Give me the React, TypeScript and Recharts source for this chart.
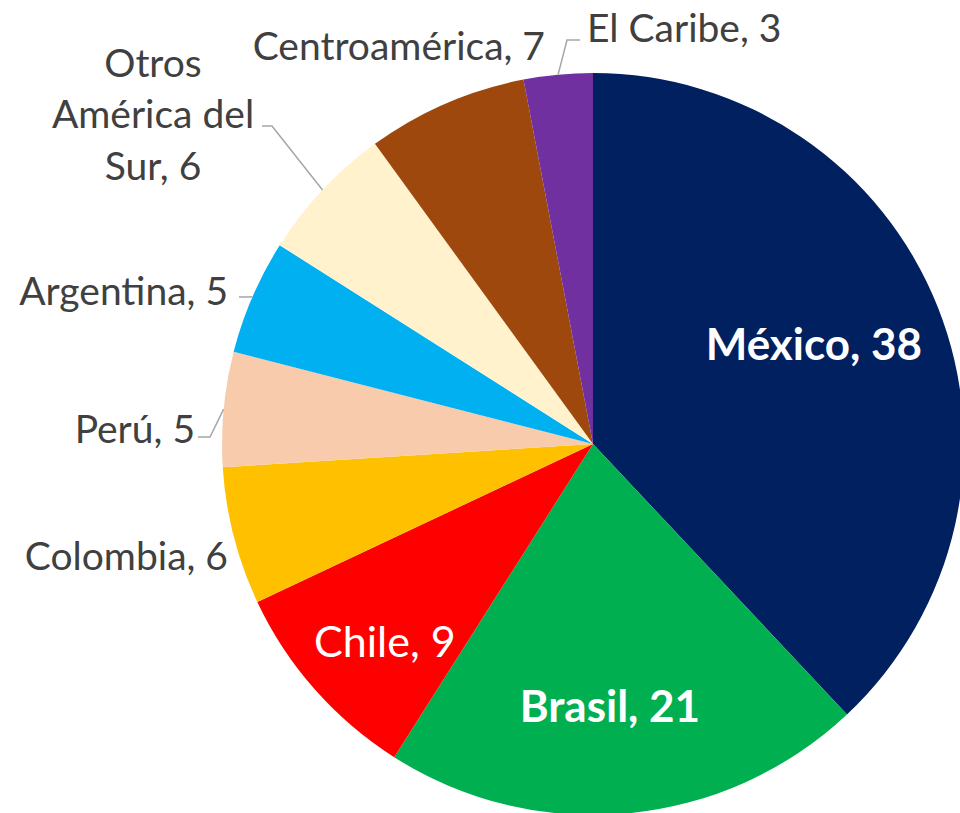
import { Pie, PieChart, Cell } from 'recharts';

const regions = [
    'México',
    'Brasil',
    'Chile',
    'Colombia',
    'Perú',
    'Argentina',
    'Otros América del Sur',
    'Centroamérica',
    'El Caribe',
];
const shares = [38, 21, 9, 6, 5, 5, 6, 7, 3];
const sliceColors = [
    '#002060',
    '#00B050',
    '#FF0000',
    '#FFC000',
    '#F8CBAD',
    '#00B0F0',
    '#FFF2CC',
    '#9E480E',
    '#7030A0',
];

// label placement, relative to the pie centre
type LabelSpot =
    | { inside: true; r: number; turn: number; size: number; bold: boolean }
    | {
          inside: false;
          dx: number;
          dy: number;
          anchor: 'start' | 'end' | 'middle';
          lines: string[];
          elbow?: [number, number];
          tail?: [number, number];
      };

const labelSpots: LabelSpot[] = [
    { inside: true, r: 0.655, turn: 3, size: 44, bold: true },
    { inside: true, r: 0.706, turn: -1.7, size: 44, bold: true },
    { inside: true, r: 0.771, turn: 1.9, size: 43, bold: false },
    { inside: false, dx: -365, dy: 111, anchor: 'end', lines: ['Colombia, 6'] },
    { inside: false, dx: -398, dy: -16, anchor: 'end', lines: ['Perú, 5'], elbow: [-383, -7], tail: [-395, -7] },
    { inside: false, dx: -365, dy: -154, anchor: 'end', lines: ['Argentina, 5'], elbow: [-345, -147], tail: [-354, -147] },
    {
        inside: false,
        dx: -440,
        dy: -331,
        anchor: 'middle',
        lines: ['Otros', 'América del', 'Sur, 6'],
        elbow: [-321, -318],
        tail: [-331, -318],
    },
    { inside: false, dx: -48, dy: -399, anchor: 'end', lines: ['Centroamérica, 7'] },
    { inside: false, dx: -6, dy: -417, anchor: 'start', lines: ['El Caribe, 3'], elbow: [-26, -404], tail: [-13, -404] },
];

const data = regions.map((name, i) => ({ name, value: shares[i] }));

const FONT = 'Lato, "Open Sans", sans-serif';
const FONT_SIZE = 39;
const LINE_HEIGHT = 51.5;
const RAD = Math.PI / 180;

function SliceLabel(props: any) {
    const { cx, cy, midAngle, outerRadius, index, name, value } = props;
    const spot = labelSpots[index];

    if (spot.inside) {
        const r = outerRadius * spot.r;
        const a = (midAngle + spot.turn) * RAD;
        return (
            <text
                x={cx + r * Math.cos(a)}
                y={cy - r * Math.sin(a)}
                fill="#FFFFFF"
                textAnchor="middle"
                dominantBaseline="central"
                fontFamily={FONT}
                fontSize={spot.size}
                fontWeight={spot.bold ? 700 : 400}
            >
                {`${name}, ${value}`}
            </text>
        );
    }

    const x = cx + spot.dx;
    const y = cy + spot.dy;
    const top = y - ((spot.lines.length - 1) * LINE_HEIGHT) / 2;
    let leader = null;
    if (spot.elbow && spot.tail) {
        const sx = cx + outerRadius * Math.cos(midAngle * RAD);
        const sy = cy - outerRadius * Math.sin(midAngle * RAD);
        const pts = `${sx},${sy} ${cx + spot.elbow[0]},${cy + spot.elbow[1]} ${cx + spot.tail[0]},${cy + spot.tail[1]}`;
        leader = <polyline points={pts} fill="none" stroke="#A6A6A6" strokeWidth={1.5} />;
    }
    return (
        <g>
            {leader}
            <text
                x={x}
                y={top}
                fill="#404040"
                textAnchor={spot.anchor}
                dominantBaseline="central"
                fontFamily={FONT}
                fontSize={FONT_SIZE}
            >
                {spot.lines.map((line, i) => (
                    <tspan key={line} x={x} dy={i === 0 ? 0 : LINE_HEIGHT}>
                        {line}
                    </tspan>
                ))}
            </text>
        </g>
    );
}

export default function App() {
    return (
        <div style={{ position: 'absolute', left: 0, top: 0, width: 960, height: 813, background: '#fff' }}>
            <PieChart width={960} height={813} margin={{ top: 0, right: 0, bottom: 0, left: 0 }}>
                <Pie
                    data={data}
                    dataKey="value"
                    nameKey="name"
                    cx={593}
                    cy={444}
                    outerRadius={371}
                    startAngle={90}
                    endAngle={-270}
                    stroke="none"
                    label={SliceLabel}
                    labelLine={false}
                    isAnimationActive={false}
                >
                    {data.map((d, i) => (
                        <Cell key={d.name} fill={sliceColors[i]} />
                    ))}
                </Pie>
            </PieChart>
        </div>
    );
}
